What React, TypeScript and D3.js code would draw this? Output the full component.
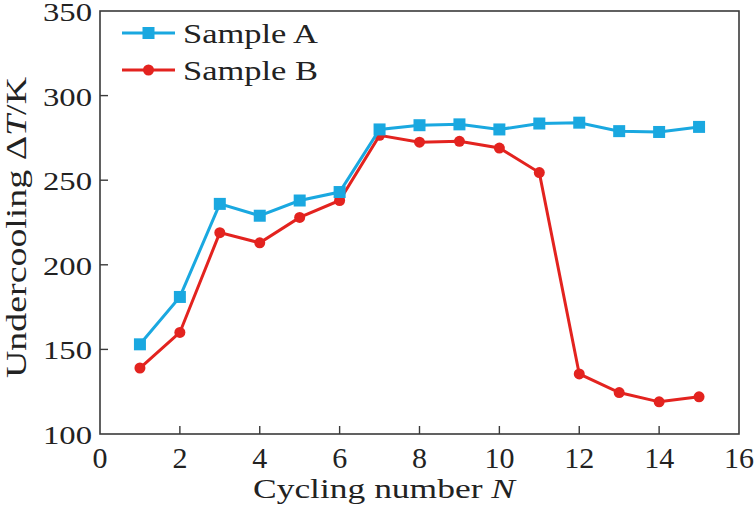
import { useRef, useEffect } from "react";
import * as d3 from "d3";

const cycles = [1, 2, 3, 4, 5, 6, 7, 8, 9, 10, 11, 12, 13, 14, 15];
const sampleA = [153, 181, 236, 229, 238, 243, 280, 282.5, 283, 280, 283.5, 284, 279, 278.5, 281.5];
const sampleB = [139, 160, 219, 213, 228, 238, 276.5, 272.5, 273, 269, 254.5, 135.5, 124.5, 119, 122];
const xTicks = [0, 2, 4, 6, 8, 10, 12, 14, 16];
const yTicks = [100, 150, 200, 250, 300, 350];

const BLUE = "#1aa8e0";
const RED = "#e3231f";
const AXIS = "#3a3a3a";
const FONT = "Liberation Serif";

export default function App() {
  const svgRef = useRef<SVGSVGElement | null>(null);

  useEffect(() => {
    document.body.style.margin = "0";
    const svg = d3.select(svgRef.current);
    svg.selectAll("*").remove();

    const left = 100, right = 739, top = 11, bottom = 434;
    const x = d3.scaleLinear().domain([0, 16]).range([left, right]);
    const y = d3.scaleLinear().domain([100, 350]).range([bottom, top]);

    svg.append("rect").attr("width", 756).attr("height", 513).attr("fill", "#fff");

    // frame
    svg
      .append("rect")
      .attr("x", left)
      .attr("y", top)
      .attr("width", right - left)
      .attr("height", bottom - top)
      .attr("fill", "none")
      .attr("stroke", AXIS)
      .attr("stroke-width", 1.6);

    // x ticks (inward)
    const gx = svg.append("g");
    xTicks.forEach((t) => {
      if (t > 0 && t < 16) {
        gx.append("line")
          .attr("x1", x(t)).attr("x2", x(t))
          .attr("y1", bottom).attr("y2", bottom - 8)
          .attr("stroke", AXIS).attr("stroke-width", 1.4);
      }
      gx.append("text")
        .attr("x", x(t))
        .attr("y", 468)
        .attr("text-anchor", "middle")
        .attr("font-family", FONT)
        .attr("font-size", 30)
        .attr("fill", "#222")
        .text(t);
    });

    // y ticks (inward)
    const gy = svg.append("g");
    yTicks.forEach((t) => {
      if (t > 100 && t < 350) {
        gy.append("line")
          .attr("x1", left).attr("x2", left + 8)
          .attr("y1", y(t)).attr("y2", y(t))
          .attr("stroke", AXIS).attr("stroke-width", 1.4);
      }
      gy.append("text")
        .attr("x", 92)
        .attr("y", y(t) + 10)
        .attr("text-anchor", "end")
        .attr("textLength", 49)
        .attr("lengthAdjust", "spacingAndGlyphs")
        .attr("font-family", FONT)
        .attr("font-size", 26)
        .attr("fill", "#222")
        .text(t);
    });

    // axis titles
    const xt = svg
      .append("text")
      .attr("x", 253)
      .attr("y", 498)
      .attr("textLength", 262)
      .attr("lengthAdjust", "spacingAndGlyphs")
      .attr("font-family", FONT)
      .attr("font-size", 28)
      .attr("fill", "#222");
    xt.append("tspan").text("Cycling number ");
    xt.append("tspan").attr("font-style", "italic").text("N");

    const yt = svg
      .append("text")
      .attr("transform", "translate(26,378) rotate(-90)")
      .attr("textLength", 301)
      .attr("lengthAdjust", "spacingAndGlyphs")
      .attr("font-family", FONT)
      .attr("font-size", 30)
      .attr("fill", "#222");
    yt.append("tspan").text("Undercooling Δ");
    yt.append("tspan").attr("font-style", "italic").text("T");
    yt.append("tspan").text("/K");

    const line = d3
      .line<number>()
      .x((_, i) => x(cycles[i]))
      .y((d) => y(d));

    // Sample B
    svg.append("path")
      .attr("d", line(sampleB))
      .attr("fill", "none")
      .attr("stroke", RED)
      .attr("stroke-width", 3);
    svg.append("g")
      .selectAll("circle")
      .data(sampleB)
      .enter()
      .append("circle")
      .attr("cx", (_, i) => x(cycles[i]))
      .attr("cy", (d) => y(d))
      .attr("r", 5.5)
      .attr("fill", RED);

    // Sample A
    svg.append("path")
      .attr("d", line(sampleA))
      .attr("fill", "none")
      .attr("stroke", BLUE)
      .attr("stroke-width", 3);
    svg.append("g")
      .selectAll("rect")
      .data(sampleA)
      .enter()
      .append("rect")
      .attr("x", (_, i) => x(cycles[i]) - 6)
      .attr("y", (d) => y(d) - 6)
      .attr("width", 12)
      .attr("height", 12)
      .attr("fill", BLUE);

    // legend
    const legend = [
      { name: "Sample A", color: BLUE, shape: "square", cy: 33 },
      { name: "Sample B", color: RED, shape: "circle", cy: 70 },
    ];
    legend.forEach((l) => {
      svg.append("line")
        .attr("x1", 122).attr("x2", 175)
        .attr("y1", l.cy).attr("y2", l.cy)
        .attr("stroke", l.color).attr("stroke-width", 3);
      if (l.shape === "square") {
        svg.append("rect")
          .attr("x", 148.5 - 6).attr("y", l.cy - 6)
          .attr("width", 12).attr("height", 12)
          .attr("fill", l.color);
      } else {
        svg.append("circle")
          .attr("cx", 148.5).attr("cy", l.cy).attr("r", 5.5)
          .attr("fill", l.color);
      }
      svg.append("text")
        .attr("x", 183)
        .attr("y", l.cy + 10)
        .attr("textLength", 135)
        .attr("lengthAdjust", "spacingAndGlyphs")
        .attr("font-family", FONT)
        .attr("font-size", 28)
        .attr("fill", "#222")
        .text(l.name);
    });
  }, []);

  return (
    <svg
      ref={svgRef}
      width={756}
      height={513}
      style={{ position: "absolute", top: 0, left: 0, display: "block" }}
    />
  );
}
